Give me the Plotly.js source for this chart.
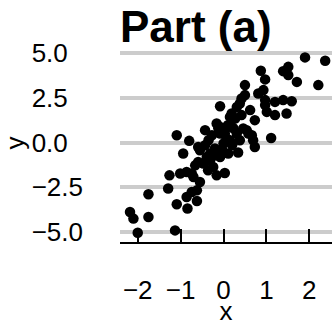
<!DOCTYPE html>
<html>
<head>
<meta charset="utf-8">
<script src="https://cdn.plot.ly/plotly-3.0.1.min.js"></script>
<style>html,body{margin:0;padding:0;background:#fff}#chart{width:332px;height:326px}</style>
</head>
<body>
<div id="chart"></div>
<script>
const xValues = [-2.00,-1.13,-2.18,-2.10,-1.75,-1.75,-1.29,-1.26,-1.09,-0.94,-0.80,-0.59,-1.09,-0.84,-0.62,-0.74,-0.86,-0.55,-0.70,-1.01,
  -0.86,-0.59,-0.39,-0.35,-0.24,-0.16,0.03,-0.08,-0.16,-0.08,0.11,0.34,0.15,0.31,0.42,0.50,0.50,0.42,0.54,0.73,
  0.69,0.73,0.03,0.15,0.00,-0.31,-0.47,1.11,0.87,0.97,0.81,0.93,0.97,1.01,1.20,1.20,1.47,1.39,1.59,1.39,
  1.51,1.51,1.71,1.90,2.21,2.37,0.38,0.19,0.27,-0.12,0.19,0.58,-0.08,0.31,0.07,-0.20,-0.08,0.97,0.23,-0.74,
  -0.62,0.46,0.66,-0.55,-0.43,-0.27,-0.20,-0.36,-0.66,0.20,0.38,0.62,0.10,-0.43,-0.03,-0.31];
const yValues = [-5.04,-4.91,-3.88,-4.25,-4.16,-2.89,-2.57,-1.83,0.41,-0.61,0.10,-0.24,-3.45,-3.69,-3.27,-2.76,-3.04,-2.20,-1.92,-1.73,
  -1.64,-1.08,-0.80,0.13,-1.36,-1.83,-1.70,0.88,1.07,2.04,-0.61,-0.55,1.44,2.00,2.47,3.22,2.66,1.54,0.70,1.26,
  0.13,-0.24,0.51,0.13,-0.05,-0.61,-1.17,0.26,4.02,3.54,2.75,2.94,2.10,1.72,2.28,1.54,1.63,2.38,2.32,4.00,
  4.24,3.78,3.40,4.77,3.22,4.58,2.19,1.63,1.35,0.81,0.88,0.51,0.51,0.51,0.23,-0.33,-0.80,2.38,0.81,-1.73,
  -2.67,0.79,0.41,-0.43,-0.15,0.41,-0.71,-1.55,-1.27,-0.15,0.13,1.82,0.98,0.70,-0.43,-0.99];
const xTickVals = [-2, -1, 0, 1, 2];
const xTickText = ['\u22122', '\u22121', '0', '1', '2'];
const yTickVals = [5, 2.5, 0, -2.5, -5];
const yTickText = ['5.0', '2.5', '0.0', '\u22122.5', '\u22125.0'];
const chartTitle = 'Part (a)';
const xTitle = 'x';
const yTitle = 'y';

const font = 'Liberation Sans, Arial, Helvetica, sans-serif';

// left-align the y tick labels: pad labels without a minus sign with an invisible one
const padSpan = '<span style="color:rgba(0,0,0,0)">\u2212</span>';
const yTickShown = yTickText.map(t => t.charAt(0) === '\u2212' ? t : t + padSpan);

Plotly.newPlot('chart', [{
  type: 'scatter', mode: 'markers', x: xValues, y: yValues,
  marker: {color: '#000000', size: 10.5, line: {width: 0}},
  hoverinfo: 'skip'
}], {
  width: 332, height: 326,
  margin: {l: 120, r: 0, t: 44, b: 84, pad: 0},
  paper_bgcolor: '#ffffff', plot_bgcolor: '#ffffff',
  showlegend: false,
  font: {family: font, color: '#000000', size: 26},
  title: {text: chartTitle, font: {family: font, size: 44, weight: 700, color: '#000000'},
          x: 0, xref: 'paper', xanchor: 'left', y: 1 - 27/326, yref: 'container', yanchor: 'middle'},
  xaxis: {
    range: [-2.413, 2.529], tickvals: xTickVals, ticktext: xTickText,
    showgrid: false, zeroline: false, showline: true, linecolor: '#000000', linewidth: 2,
    ticks: 'inside', ticklen: 13, tickwidth: 2, tickcolor: '#000000',
    ticklabelstandoff: 24, tickfont: {size: 26, family: font, color: '#000000'},
    title: {text: xTitle, font: {size: 26, family: font, color: '#000000'}, standoff: 0},
    fixedrange: true
  },
  yaxis: {
    range: [-5.56, 5.52], tickvals: yTickVals, ticktext: yTickShown,
    showgrid: true, gridcolor: '#cccccc', gridwidth: 4, zeroline: false, showline: false,
    ticks: '', ticklabelstandoff: 36,
    tickfont: {size: 26, family: font, color: '#000000'},
    title: {text: yTitle, font: {size: 26, family: font, color: '#000000'}, standoff: 0},
    fixedrange: true
  }
}, {staticPlot: true, displayModeBar: false});
</script>
</body>
</html>
